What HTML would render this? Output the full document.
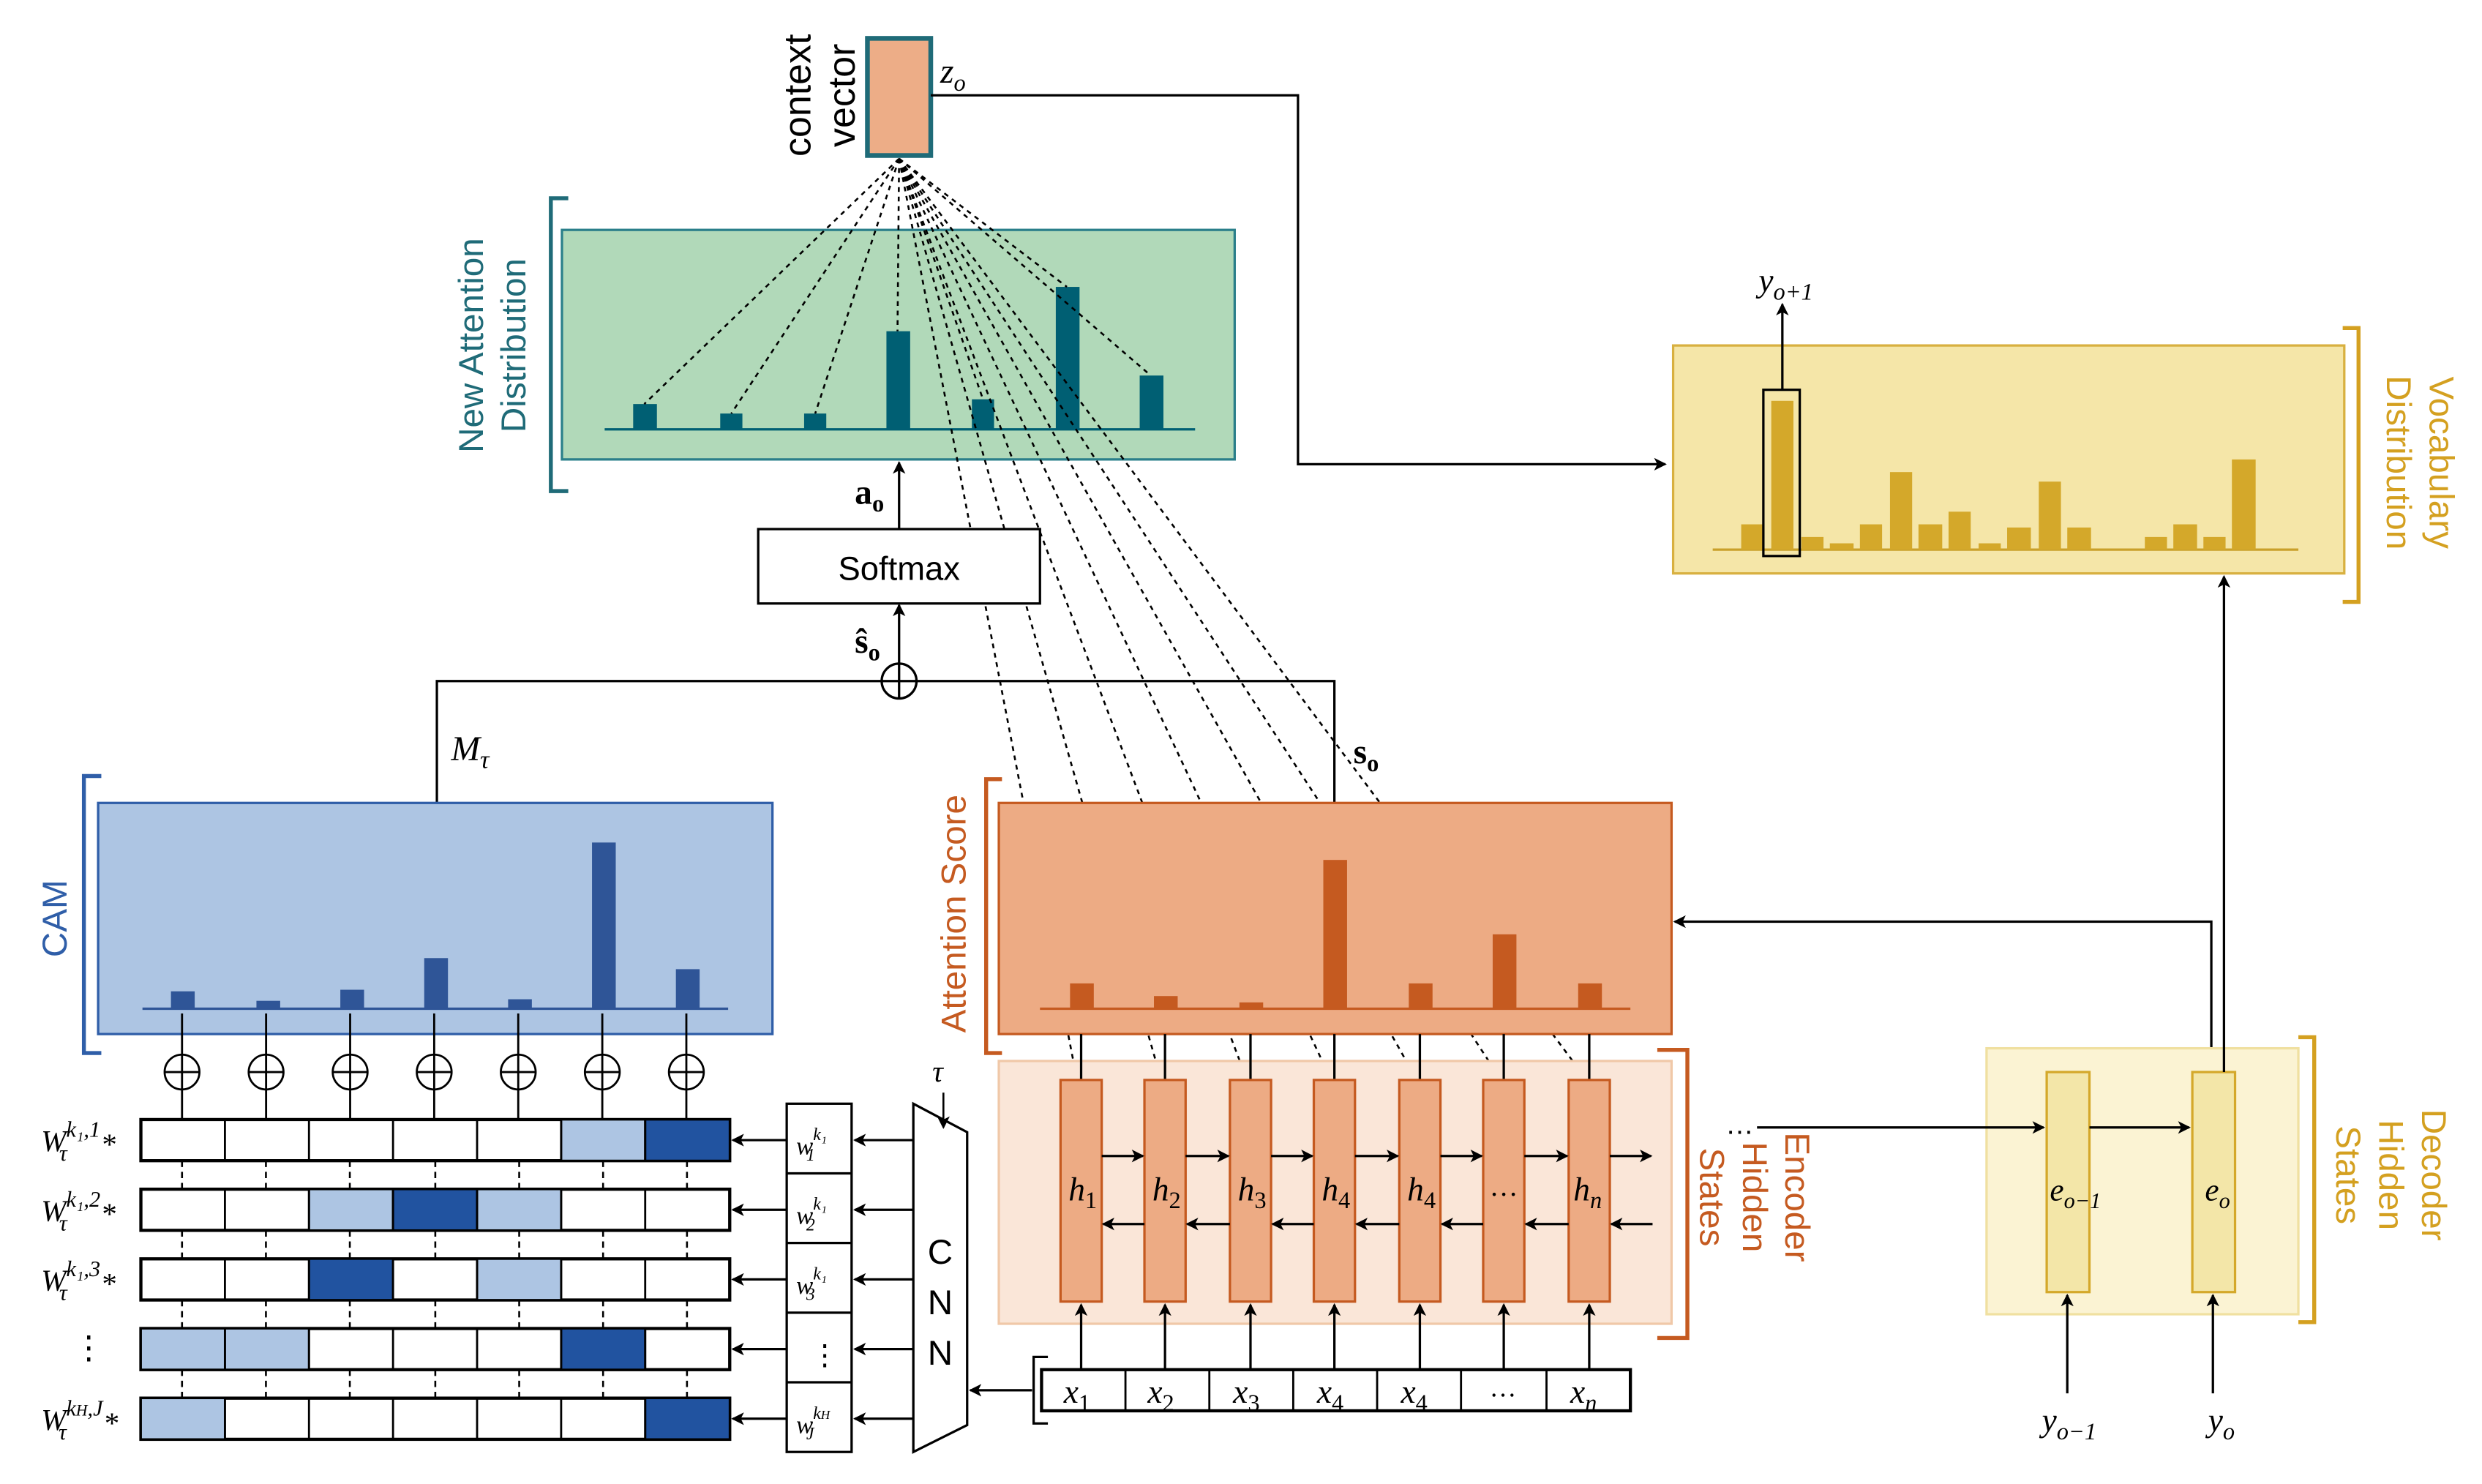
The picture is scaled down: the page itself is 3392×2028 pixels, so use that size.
<!DOCTYPE html>
<html><head><meta charset="utf-8">
<style>
html,body{margin:0;padding:0;background:#fff;}
svg{display:block;}
.m{font-family:"Liberation Serif",serif;font-style:italic;}
.s{font-family:"Liberation Sans",sans-serif;}
</style></head>
<body>
<svg width="3392" height="2028" viewBox="0 0 1568 937" xmlns="http://www.w3.org/2000/svg">
<defs>
<marker id="a" markerWidth="8" markerHeight="8" refX="7" refY="4" orient="auto" markerUnits="userSpaceOnUse">
<path d="M0,0 L8,4 L0,8 L2,4 z" fill="#000"/></marker>
</defs>
<rect width="1568" height="937" fill="#fff"/>

<!-- context vector -->
<rect x="548" y="24" width="40" height="74" fill="#EDAD87" stroke="#1f6b78" stroke-width="3"/>
<text class="s" transform="translate(512,60) rotate(-90)" font-size="24" text-anchor="middle">context</text>
<text class="s" transform="translate(540,60) rotate(-90)" font-size="24" text-anchor="middle">vector</text>
<text class="m" x="594" y="52" font-size="22">z<tspan font-size="15" dy="5">o</tspan></text>
<polyline points="588,60 820,60 820,293 1052,293" fill="none" stroke="#000" stroke-width="1.5" marker-end="url(#a)"/>

<!-- New Attention Distribution -->
<rect x="355" y="145" width="425" height="145" fill="#b1d9b9" stroke="#2a7f8a" stroke-width="1.5"/>
<path d="M359,125 L348,125 L348,310 L359,310" fill="none" stroke="#1f6b78" stroke-width="2.5"/>
<text class="s" transform="translate(305,218) rotate(-90)" font-size="22" fill="#1f6b78" text-anchor="middle">New Attention</text>
<text class="s" transform="translate(332,218) rotate(-90)" font-size="22" fill="#1f6b78" text-anchor="middle">Distribution</text>
<line x1="382" y1="271" x2="755" y2="271" stroke="#005f73" stroke-width="1.5"/>
<g fill="#005f73">
<rect x="400" y="255" width="15" height="16"/><rect x="455" y="261" width="14" height="10"/>
<rect x="508" y="261" width="14" height="10"/><rect x="560" y="209" width="15" height="62"/>
<rect x="614" y="252" width="14" height="19"/><rect x="667" y="181" width="15" height="90"/>
<rect x="720" y="237" width="15" height="34"/>
</g>
<g stroke="#000" stroke-width="1.2" stroke-dasharray="3,3" fill="none">
<line x1="568" y1="100" x2="407" y2="255"/><line x1="568" y1="100" x2="462" y2="261"/>
<line x1="568" y1="100" x2="515" y2="261"/><line x1="568" y1="100" x2="567" y2="209"/>
<line x1="568" y1="100" x2="621" y2="252"/><line x1="568" y1="100" x2="674" y2="181"/>
<line x1="568" y1="100" x2="727" y2="237"/>
<line x1="568" y1="100" x2="680" y2="680"/><line x1="568" y1="100" x2="733" y2="680"/>
<line x1="568" y1="100" x2="787" y2="680"/><line x1="568" y1="100" x2="840" y2="680"/>
<line x1="568" y1="100" x2="894" y2="680"/><line x1="568" y1="100" x2="947" y2="680"/>
<line x1="568" y1="100" x2="1001" y2="680"/>
</g>

<!-- softmax -->
<rect x="479" y="334" width="178" height="47" fill="#fff" stroke="#000" stroke-width="1.5"/>
<text class="s" x="568" y="366" font-size="21" text-anchor="middle">Softmax</text>
<line x1="568" y1="334" x2="568" y2="292" stroke="#000" stroke-width="1.5" marker-end="url(#a)"/>
<text x="540" y="318" font-family="Liberation Serif,serif" font-weight="bold" font-size="22">a<tspan font-size="15" dy="5">o</tspan></text>
<text x="540" y="412" font-family="Liberation Serif,serif" font-weight="bold" font-size="22">ŝ<tspan font-size="15" dy="5">o</tspan></text>
<line x1="568" y1="419" x2="568" y2="382" stroke="#000" stroke-width="1.5" marker-end="url(#a)"/>
<circle cx="568" cy="430" r="11" fill="#fff" stroke="#000" stroke-width="1.5"/>
<path d="M557,430 H579 M568,419 V441" stroke="#000" stroke-width="1.5"/>
<polyline points="557,430 276,430 276,507" fill="none" stroke="#000" stroke-width="1.5"/>
<polyline points="579,430 843,430 843,507" fill="none" stroke="#000" stroke-width="1.5"/>
<text class="m" x="285" y="480" font-size="22">M<tspan font-size="16" dy="5">τ</tspan></text>
<text x="855" y="482" font-family="Liberation Serif,serif" font-weight="bold" font-size="22">s<tspan font-size="15" dy="5">o</tspan></text>

<!-- CAM -->
<rect x="62" y="507" width="426" height="146" fill="#adc5e3" stroke="#2f5ea8" stroke-width="1.5"/>
<path d="M64,490 L53,490 L53,665 L64,665" fill="none" stroke="#2f5ea8" stroke-width="2.5"/>
<text class="s" transform="translate(42,580) rotate(-90)" font-size="22" fill="#2f5ea8" text-anchor="middle">CAM</text>
<line x1="90" y1="637" x2="460" y2="637" stroke="#2f5597" stroke-width="1.5"/>
<g fill="#2f5597">
<rect x="108" y="626" width="15" height="11"/><rect x="162" y="632" width="15" height="5"/>
<rect x="215" y="625" width="15" height="12"/><rect x="268" y="605" width="15" height="32"/>
<rect x="321" y="631" width="15" height="6"/><rect x="374" y="532" width="15" height="105"/>
<rect x="427" y="612" width="15" height="25"/>
</g>
<g stroke="#000" stroke-width="1.3" fill="#fff">
<g id="cp"><line x1="115" y1="640" x2="115" y2="707"/><circle cx="115" cy="677" r="11"/><line x1="104" y1="677" x2="126" y2="677"/><line x1="115" y1="666" x2="115" y2="688"/></g>
<use href="#cp" x="53.1"/><use href="#cp" x="106.2"/><use href="#cp" x="159.3"/><use href="#cp" x="212.4"/><use href="#cp" x="265.5"/><use href="#cp" x="318.6"/>
</g>

<!-- matrix -->
<g stroke="#000" stroke-width="1.3">
<rect x="89" y="707" width="372" height="26" fill="#fff" stroke-width="2"/>
<rect x="354.5" y="707" width="53.1" height="26" fill="#adc5e3"/><rect x="407.6" y="707" width="53.4" height="26" fill="#2153a0"/>
<rect x="89" y="751" width="372" height="26" fill="#fff" stroke-width="2"/>
<rect x="195.2" y="751" width="53.1" height="26" fill="#adc5e3"/><rect x="248.3" y="751" width="53.1" height="26" fill="#2153a0"/><rect x="301.4" y="751" width="53.1" height="26" fill="#adc5e3"/>
<rect x="89" y="795" width="372" height="26" fill="#fff" stroke-width="2"/>
<rect x="195.2" y="795" width="53.1" height="26" fill="#2153a0"/><rect x="301.4" y="795" width="53.1" height="26" fill="#adc5e3"/>
<rect x="89" y="839" width="372" height="26" fill="#fff" stroke-width="2"/>
<rect x="89" y="839" width="53.1" height="26" fill="#adc5e3"/><rect x="142.1" y="839" width="53.1" height="26" fill="#adc5e3"/><rect x="354.5" y="839" width="53.1" height="26" fill="#2153a0"/>
<rect x="89" y="883" width="372" height="26" fill="#fff" stroke-width="2"/>
<rect x="89" y="883" width="53.1" height="26" fill="#adc5e3"/><rect x="407.6" y="883" width="53.4" height="26" fill="#2153a0"/>
<path d="M142.1,707V733M195.2,707V733M248.3,707V733M301.4,707V733M354.5,707V733M407.6,707V733
M142.1,751V777M195.2,751V777M248.3,751V777M301.4,751V777M354.5,751V777M407.6,751V777
M142.1,795V821M195.2,795V821M248.3,795V821M301.4,795V821M354.5,795V821M407.6,795V821
M142.1,839V865M195.2,839V865M248.3,839V865M301.4,839V865M354.5,839V865M407.6,839V865
M142.1,883V909M195.2,883V909M248.3,883V909M301.4,883V909M354.5,883V909M407.6,883V909" fill="none"/>
</g>
<g stroke="#000" stroke-width="1.2" stroke-dasharray="4,3">
<path d="M115,733V751M168,733V751M221,733V751M275,733V751M328,733V751M381,733V751M434,733V751
M115,777V795M168,777V795M221,777V795M275,777V795M328,777V795M381,777V795M434,777V795
M115,821V839M168,821V839M221,821V839M275,821V839M328,821V839M381,821V839M434,821V839
M115,865V883M168,865V883M221,865V883M275,865V883M328,865V883M381,865V883M434,865V883"/>
</g>
<g class="m" font-size="19">
<text x="26" y="727">W<tspan font-size="14" dy="-9">k₁,1</tspan><tspan font-size="14" dx="-26" dy="15">τ</tspan><tspan dx="22" dy="-4" font-style="normal">*</tspan></text>
<text x="26" y="771">W<tspan font-size="14" dy="-9">k₁,2</tspan><tspan font-size="14" dx="-26" dy="15">τ</tspan><tspan dx="22" dy="-4" font-style="normal">*</tspan></text>
<text x="26" y="815">W<tspan font-size="14" dy="-9">k₁,3</tspan><tspan font-size="14" dx="-26" dy="15">τ</tspan><tspan dx="22" dy="-4" font-style="normal">*</tspan></text>
<text x="46" y="858" font-style="normal" font-size="20">⋮</text>
<text x="26" y="903">W<tspan font-size="14" dy="-9">k<tspan font-size="10">H</tspan>,J</tspan><tspan font-size="14" dx="-28" dy="15">τ</tspan><tspan dx="24" dy="-4" font-style="normal">*</tspan></text>
</g>

<!-- w column -->
<rect x="497" y="697" width="41" height="220" fill="#fff" stroke="#000" stroke-width="1.5"/>
<path d="M497,741H538M497,785H538M497,829H538M497,873H538" stroke="#000" stroke-width="1.5"/>
<g class="m" font-size="16">
<text x="503" y="729">w<tspan font-size="11" dy="-9">k₁</tspan><tspan font-size="11" dx="-13" dy="13">1</tspan></text>
<text x="503" y="773">w<tspan font-size="11" dy="-9">k₁</tspan><tspan font-size="11" dx="-13" dy="13">2</tspan></text>
<text x="503" y="817">w<tspan font-size="11" dy="-9">k₁</tspan><tspan font-size="11" dx="-13" dy="13">3</tspan></text>
<text x="512" y="862" font-style="normal" font-size="18">⋮</text>
<text x="503" y="905">w<tspan font-size="11" dy="-9">k<tspan font-size="8">H</tspan></tspan><tspan font-size="11" dx="-15" dy="13">J</tspan></text>
</g>
<g stroke="#000" stroke-width="1.5" marker-end="url(#a)">
<line x1="497" y1="720" x2="463" y2="720"/><line x1="497" y1="764" x2="463" y2="764"/>
<line x1="497" y1="808" x2="463" y2="808"/><line x1="497" y1="852" x2="463" y2="852"/>
<line x1="497" y1="896" x2="463" y2="896"/>
<line x1="577" y1="720" x2="540" y2="720"/><line x1="577" y1="764" x2="540" y2="764"/>
<line x1="577" y1="808" x2="540" y2="808"/><line x1="577" y1="852" x2="540" y2="852"/>
<line x1="577" y1="896" x2="540" y2="896"/>
</g>
<!-- CNN -->
<polygon points="577,697 611,715 611,900 577,917" fill="#fff" stroke="#000" stroke-width="1.5"/>
<text class="s" x="594" y="798" font-size="22" text-anchor="middle">C</text>
<text class="s" x="594" y="830" font-size="22" text-anchor="middle">N</text>
<text class="s" x="594" y="862" font-size="22" text-anchor="middle">N</text>
<text class="m" x="589" y="683" font-size="19">τ</text>
<line x1="596" y1="690" x2="596" y2="712" stroke="#000" stroke-width="1.2" marker-end="url(#a)"/>
<line x1="652" y1="878" x2="613" y2="878" stroke="#000" stroke-width="1.5" marker-end="url(#a)"/>

<!-- Attention Score -->
<rect x="631" y="507" width="425" height="146" fill="#edab84" stroke="#c55a20" stroke-width="1.5"/>
<path d="M633,492 L623,492 L623,665 L633,665" fill="none" stroke="#c55a20" stroke-width="2.5"/>
<text class="s" transform="translate(610,577) rotate(-90)" font-size="22" fill="#c55a20" text-anchor="middle">Attention Score</text>
<line x1="657" y1="637" x2="1030" y2="637" stroke="#c55a20" stroke-width="1.5"/>
<g fill="#c55a20">
<rect x="676" y="621" width="15" height="16"/><rect x="729" y="629" width="15" height="8"/>
<rect x="783" y="633" width="15" height="4"/><rect x="836" y="543" width="15" height="94"/>
<rect x="890" y="621" width="15" height="16"/><rect x="943" y="590" width="15" height="47"/>
<rect x="997" y="621" width="15" height="16"/>
</g>
<polyline points="1397,677 1397,582 1058,582" fill="none" stroke="#000" stroke-width="1.5" marker-end="url(#a)"/>

<!-- Encoder -->
<rect x="631" y="670" width="425" height="166" fill="#fae6d8" stroke="#f0c8a8" stroke-width="1.5"/>
<path d="M1047,663 L1066,663 L1066,845 L1047,845" fill="none" stroke="#c55a20" stroke-width="2.5"/>
<g stroke="#000" stroke-width="1.5">
<path d="M683,653V682M736,653V682M790,653V682M843,653V682M897,653V682M950,653V682M1004,653V682"/>
</g>
<g fill="#edab84" stroke="#c55a20" stroke-width="1.5">
<rect x="670" y="682" width="26" height="140"/><rect x="723" y="682" width="26" height="140"/>
<rect x="777" y="682" width="26" height="140"/><rect x="830" y="682" width="26" height="140"/>
<rect x="884" y="682" width="26" height="140"/><rect x="937" y="682" width="26" height="140"/>
<rect x="991" y="682" width="26" height="140"/>
</g>
<g stroke="#000" stroke-width="1.5" marker-end="url(#a)">
<line x1="696" y1="730" x2="722" y2="730"/><line x1="749" y1="730" x2="776" y2="730"/>
<line x1="803" y1="730" x2="829" y2="730"/><line x1="856" y1="730" x2="883" y2="730"/>
<line x1="910" y1="730" x2="936" y2="730"/><line x1="963" y1="730" x2="990" y2="730"/>
<line x1="1017" y1="730" x2="1043" y2="730"/>
<line x1="723" y1="773" x2="697" y2="773"/><line x1="777" y1="773" x2="750" y2="773"/>
<line x1="830" y1="773" x2="804" y2="773"/><line x1="884" y1="773" x2="857" y2="773"/>
<line x1="937" y1="773" x2="911" y2="773"/><line x1="991" y1="773" x2="964" y2="773"/>
<line x1="1044" y1="773" x2="1018" y2="773"/>
<line x1="683" y1="865" x2="683" y2="824"/><line x1="736" y1="865" x2="736" y2="824"/>
<line x1="790" y1="865" x2="790" y2="824"/><line x1="843" y1="865" x2="843" y2="824"/>
<line x1="897" y1="865" x2="897" y2="824"/><line x1="950" y1="865" x2="950" y2="824"/>
<line x1="1004" y1="865" x2="1004" y2="824"/>
</g>
<g class="m" font-size="21">
<text x="675" y="758">h<tspan font-size="15" font-style="normal" dy="5">1</tspan></text>
<text x="728" y="758">h<tspan font-size="15" font-style="normal" dy="5">2</tspan></text>
<text x="782" y="758">h<tspan font-size="15" font-style="normal" dy="5">3</tspan></text>
<text x="835" y="758">h<tspan font-size="15" font-style="normal" dy="5">4</tspan></text>
<text x="889" y="758">h<tspan font-size="15" font-style="normal" dy="5">4</tspan></text>
<text x="941" y="755" font-style="normal" font-size="18">…</text>
<text x="994" y="758">h<tspan font-size="15" dy="5">n</tspan></text>
</g>
<text class="s" x="1090" y="716" font-size="18">…</text>
<text class="s" transform="translate(1128,756) rotate(90)" font-size="22" fill="#c55a20" text-anchor="middle">Encoder</text>
<text class="s" transform="translate(1101,756) rotate(90)" font-size="22" fill="#c55a20" text-anchor="middle">Hidden</text>
<text class="s" transform="translate(1074,756) rotate(90)" font-size="22" fill="#c55a20" text-anchor="middle">States</text>

<!-- x row -->
<path d="M662,857 L653,857 L653,899 L662,899" fill="none" stroke="#000" stroke-width="1.5"/>
<rect x="658" y="865" width="372" height="26" fill="#fff" stroke="#000" stroke-width="2"/>
<path d="M711,865V891M764,865V891M817,865V891M870,865V891M923,865V891M977,865V891" stroke="#000" stroke-width="1.3"/>
<g class="m" font-size="21">
<text x="672" y="886">x<tspan font-size="15" font-style="normal" dy="5">1</tspan></text>
<text x="725" y="886">x<tspan font-size="15" font-style="normal" dy="5">2</tspan></text>
<text x="779" y="886">x<tspan font-size="15" font-style="normal" dy="5">3</tspan></text>
<text x="832" y="886">x<tspan font-size="15" font-style="normal" dy="5">4</tspan></text>
<text x="885" y="886">x<tspan font-size="15" font-style="normal" dy="5">4</tspan></text>
<text x="941" y="882" font-style="normal" font-size="17">…</text>
<text x="992" y="886">x<tspan font-size="15" dy="5">n</tspan></text>
</g>

<!-- Decoder -->
<rect x="1255" y="662" width="197" height="168" fill="#fbf3d3" stroke="#f0e0a0" stroke-width="1.5"/>
<path d="M1452,655 L1462,655 L1462,835 L1452,835" fill="none" stroke="#d4a020" stroke-width="2.5"/>
<line x1="1110" y1="712" x2="1291" y2="712" stroke="#000" stroke-width="1.5" marker-end="url(#a)"/>
<rect x="1293" y="677" width="27" height="139" fill="#f3e6a8" stroke="#d4a82a" stroke-width="1.5"/>
<rect x="1385" y="677" width="27" height="139" fill="#f3e6a8" stroke="#d4a82a" stroke-width="1.5"/>
<line x1="1320" y1="712" x2="1383" y2="712" stroke="#000" stroke-width="1.5" marker-end="url(#a)"/>
<text class="m" x="1295" y="758" font-size="20">e<tspan font-size="14" dy="5">o−1</tspan></text>
<text class="m" x="1393" y="758" font-size="20">e<tspan font-size="14" dy="5">o</tspan></text>
<line x1="1306" y1="880" x2="1306" y2="818" stroke="#000" stroke-width="1.5" marker-end="url(#a)"/>
<line x1="1398" y1="880" x2="1398" y2="818" stroke="#000" stroke-width="1.5" marker-end="url(#a)"/>
<text class="m" x="1290" y="904" font-size="21">y<tspan font-size="15" dy="5">o−1</tspan></text>
<text class="m" x="1395" y="904" font-size="21">y<tspan font-size="15" dy="5">o</tspan></text>
<text class="s" transform="translate(1530,742) rotate(90)" font-size="22" fill="#d4a020" text-anchor="middle">Decoder</text>
<text class="s" transform="translate(1503,742) rotate(90)" font-size="22" fill="#d4a020" text-anchor="middle">Hidden</text>
<text class="s" transform="translate(1476,742) rotate(90)" font-size="22" fill="#d4a020" text-anchor="middle">States</text>
<line x1="1405" y1="677" x2="1405" y2="364" stroke="#000" stroke-width="1.5" marker-end="url(#a)"/>

<!-- Vocabulary -->
<rect x="1057" y="218" width="424" height="144" fill="#f5e6a8" stroke="#d8b040" stroke-width="1.5"/>
<path d="M1480,207 L1490,207 L1490,380 L1480,380" fill="none" stroke="#d4a020" stroke-width="2.5"/>
<text class="s" transform="translate(1535,292) rotate(90)" font-size="22" fill="#d4a020" text-anchor="middle">Vocabulary</text>
<text class="s" transform="translate(1508,292) rotate(90)" font-size="22" fill="#d4a020" text-anchor="middle">Distribution</text>
<line x1="1082" y1="347" x2="1452" y2="347" stroke="#c9a02a" stroke-width="1.5"/>
<g fill="#d4a82a">
<rect x="1100" y="331" width="14" height="16"/><rect x="1119" y="253" width="14" height="94"/>
<rect x="1138" y="339" width="14" height="8"/><rect x="1156" y="343" width="15" height="4"/>
<rect x="1175" y="331" width="14" height="16"/><rect x="1194" y="298" width="14" height="49"/>
<rect x="1212" y="331" width="15" height="16"/><rect x="1231" y="323" width="14" height="24"/>
<rect x="1250" y="343" width="14" height="4"/><rect x="1268" y="333" width="15" height="14"/>
<rect x="1288" y="304" width="14" height="43"/><rect x="1306" y="333" width="15" height="14"/>
<rect x="1355" y="339" width="14" height="8"/><rect x="1373" y="331" width="15" height="16"/>
<rect x="1392" y="339" width="14" height="8"/><rect x="1410" y="290" width="15" height="57"/>
</g>
<rect x="1114" y="246" width="23" height="105" fill="none" stroke="#000" stroke-width="1.5"/>
<line x1="1126" y1="246" x2="1126" y2="192" stroke="#000" stroke-width="1.5" marker-end="url(#a)"/>
<text class="m" x="1111" y="184" font-size="21">y<tspan font-size="15" dy="5">o+1</tspan></text>
</svg>
</body></html>
